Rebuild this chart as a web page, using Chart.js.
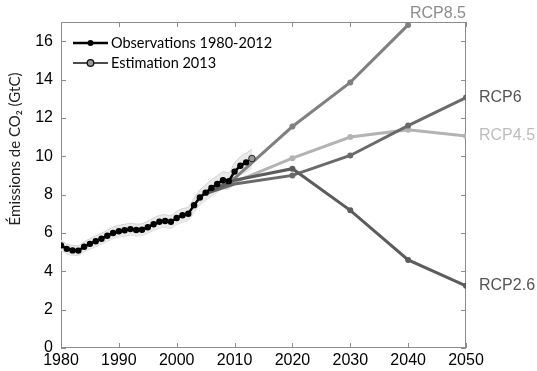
<!DOCTYPE html>
<html>
<head>
<meta charset="utf-8">
<script src="https://cdn.jsdelivr.net/npm/chart.js@4.4.1/dist/chart.umd.min.js"></script>
<style>
    html, body { margin: 0; padding: 0; background: #fff; }
    canvas { display: block; }
</style>
</head>
<body>
<canvas id="co2Chart" width="537" height="371"></canvas>
<script>
// Observations (GtC)
const obsYears = [1980, 1981, 1982, 1983, 1984, 1985, 1986, 1987, 1988, 1989,
    1990, 1991, 1992, 1993, 1994, 1995, 1996, 1997, 1998, 1999,
    2000, 2001, 2002, 2003, 2004, 2005, 2006, 2007, 2008, 2009,
    2010, 2011, 2012];
const obsValues = [5.35, 5.17, 5.09, 5.08, 5.28, 5.43, 5.57, 5.70, 5.85, 6.00,
    6.09, 6.14, 6.20, 6.15, 6.17, 6.30, 6.45, 6.58, 6.62, 6.58,
    6.78, 6.92, 7.00, 7.45, 7.85, 8.10, 8.35, 8.55, 8.75, 8.70,
    9.20, 9.50, 9.68];
const bandUpper = [5.62, 5.43, 5.35, 5.34, 5.54, 5.70, 5.85, 5.99, 6.14, 6.30,
    6.39, 6.45, 6.51, 6.46, 6.48, 6.62, 6.77, 6.91, 6.95, 6.91,
    7.12, 7.27, 7.35, 7.82, 8.24, 8.51, 8.77, 8.98, 9.19, 9.14,
    9.66, 9.98, 10.16, 10.37];
const bandLower = [5.08, 4.91, 4.84, 4.83, 5.02, 5.16, 5.29, 5.42, 5.56, 5.70,
    5.79, 5.83, 5.89, 5.84, 5.86, 5.99, 6.13, 6.25, 6.29, 6.25,
    6.44, 6.57, 6.65, 7.08, 7.46, 7.70, 7.93, 8.12, 8.31, 8.27,
    8.74, 9.03, 9.20, 9.39];
const bandYears = obsYears.concat([2013]);
const estYears = [2012, 2013];
const estValues = [9.68, 9.88];

// RCP scenarios
const rcpYears = [2005, 2010, 2020, 2030, 2040, 2050];
const rcp85 = [8.05, 8.85, 11.55, 13.85, 16.85, null];
const rcp6 = [8.05, 8.55, 9.00, 10.04, 11.60, 13.06];
const rcp45 = [8.05, 8.65, 9.90, 11.00, 11.38, 11.06];
const rcp26 = [8.05, 8.75, 9.35, 7.18, 4.59, 3.24];

const xTicks = [1980, 1990, 2000, 2010, 2020, 2030, 2040, 2050];
const yTicks = [0, 2, 4, 6, 8, 10, 12, 14, 16];

const toPoints = (xs, ys) => xs.map((x, i) => ({ x: x, y: ys[i] }));
const rcpRadius = [0, 0, 3, 3, 3, 3];

function rcpSet(label, values, color) {
    return {
        label: label,
        data: toPoints(rcpYears, values),
        borderColor: color,
        backgroundColor: color,
        borderWidth: 3,
        pointRadius: rcpRadius,
        pointBorderWidth: 0,
        pointBackgroundColor: color,
        tension: 0,
        spanGaps: false,
        fill: false
    };
}

// frame with inward ticks, axis title, legend and scenario labels
const decorations = {
    id: 'decorations',
    beforeDatasetsDraw(chart) {
        const ctx = chart.ctx;
        const a = chart.chartArea;
        const xs = chart.scales.x, ys = chart.scales.y;
        ctx.save();
        ctx.strokeStyle = '#8c8c8c';
        ctx.lineWidth = 1;
        ctx.strokeRect(a.left + 0.5, a.top + 0.5, a.right - a.left - 1, a.bottom - a.top - 1);
        ctx.beginPath();
        xTicks.forEach(v => {
            const px = Math.round(xs.getPixelForValue(v)) + 0.5;
            ctx.moveTo(px, a.bottom); ctx.lineTo(px, a.bottom - 5);
            ctx.moveTo(px, a.top); ctx.lineTo(px, a.top + 5);
        });
        yTicks.forEach(v => {
            const py = Math.round(ys.getPixelForValue(v)) + 0.5;
            ctx.moveTo(a.left, py); ctx.lineTo(a.left + 5, py);
            ctx.moveTo(a.right, py); ctx.lineTo(a.right - 5, py);
        });
        ctx.stroke();

        // y axis title (sits above the middle in the original)
        ctx.translate(15, 149);
        ctx.rotate(-Math.PI / 2);
        ctx.font = '15px Lato';
        ctx.fillStyle = '#222';
        ctx.textAlign = 'center';
        ctx.textBaseline = 'middle';
        ctx.fillText('Émissions de CO₂ (GtC)', 0, 0);
        ctx.restore();
    },
    afterDraw(chart) {
        const ctx = chart.ctx;
        const xs = chart.scales.x, ys = chart.scales.y;
        ctx.save();
        // legend
        ctx.font = '14.5px Lato';
        ctx.textBaseline = 'middle';
        ctx.textAlign = 'left';
        ctx.strokeStyle = '#000';
        ctx.lineWidth = 2.5;
        ctx.beginPath(); ctx.moveTo(73, 43); ctx.lineTo(108, 43); ctx.stroke();
        ctx.fillStyle = '#000';
        ctx.beginPath(); ctx.arc(90.5, 43, 3, 0, Math.PI * 2); ctx.fill();
        ctx.fillText('Observations 1980-2012', 111, 43);
        ctx.lineWidth = 1.3;
        ctx.strokeStyle = '#111';
        ctx.beginPath(); ctx.moveTo(73, 63); ctx.lineTo(108, 63); ctx.stroke();
        ctx.fillStyle = '#999';
        ctx.beginPath(); ctx.arc(90.5, 63, 3.3, 0, Math.PI * 2); ctx.fill(); ctx.stroke();
        ctx.fillStyle = '#000';
        ctx.fillText('Estimation 2013', 111, 63);

        // scenario labels
        ctx.font = '16px "Liberation Sans"';
        const x50 = xs.getPixelForValue(2050);
        const labels = [
            ['RCP6', rcp6[5], '#555555'],
            ['RCP4.5', rcp45[5], '#bdbdbd'],
            ['RCP2.6', rcp26[5], '#555555']
        ];
        labels.forEach(l => {
            ctx.fillStyle = l[2];
            ctx.fillText(l[0], x50 + 13, ys.getPixelForValue(l[1]));
        });
        ctx.textAlign = 'right';
        ctx.fillStyle = '#8c8c8c';
        ctx.fillText('RCP8.5', x50, chart.chartArea.top - 8);
        ctx.restore();
    }
};

// Chart.js draws the first dataset on top, so the band comes last
new Chart(document.getElementById('co2Chart'), {
    type: 'line',
    data: {
        datasets: [
            {
                label: 'Observations 1980-2012',
                data: toPoints(obsYears, obsValues),
                borderColor: '#000',
                borderWidth: 2.5,
                pointRadius: 3.2,
                pointBorderWidth: 0,
                pointBackgroundColor: '#000',
                tension: 0,
                fill: false
            },
            {
                label: 'Estimation 2013',
                data: toPoints(estYears, estValues),
                borderColor: '#222',
                borderWidth: 1.2,
                pointRadius: [0, 3.3],
                pointBackgroundColor: '#999',
                pointBorderColor: '#222',
                pointBorderWidth: 1,
                fill: false
            },
            rcpSet('RCP2.6', rcp26, '#5c5c5c'),
            rcpSet('RCP6', rcp6, '#6a6a6a'),
            rcpSet('RCP4.5', rcp45, '#b3b3b3'),
            rcpSet('RCP8.5', rcp85, '#808080'),
            {
                label: 'bandUpper',
                data: toPoints(bandYears, bandUpper),
                borderColor: '#d2d2d2',
                borderWidth: 1,
                backgroundColor: '#e9e9e9',
                pointRadius: 0,
                tension: 0.3,
                fill: '+1'
            },
            {
                label: 'bandLower',
                data: toPoints(bandYears, bandLower),
                borderColor: '#d2d2d2',
                borderWidth: 1,
                pointRadius: 0,
                tension: 0.3,
                fill: false
            }
        ]
    },
    options: {
        responsive: false,
        animation: false,
        devicePixelRatio: 1,
        layout: { padding: { top: 22, right: 71, bottom: 0, left: 0 } },
        plugins: {
            legend: { display: false },
            tooltip: { enabled: false }
        },
        scales: {
            x: {
                type: 'linear',
                min: 1980,
                max: 2050,
                afterBuildTicks: s => { s.ticks = xTicks.map(v => ({ value: v })); },
                afterFit: s => { s.height = 23; },
                grid: { display: false, drawTicks: false },
                border: { display: false },
                ticks: {
                    color: '#000',
                    font: { family: '"Liberation Sans", Arial', size: 16 },
                    padding: 3,
                    maxRotation: 0,
                    autoSkip: false,
                    callback: v => String(v)
                }
            },
            y: {
                min: 0,
                max: 17,
                afterBuildTicks: s => { s.ticks = yTicks.map(v => ({ value: v })); },
                afterFit: s => { s.width = 61; },
                grid: { display: false, drawTicks: false },
                border: { display: false },
                ticks: {
                    color: '#000',
                    font: { family: '"Liberation Sans", Arial', size: 16 },
                    padding: 8,
                    autoSkip: false
                }
            }
        }
    },
    plugins: [decorations]
});
</script>
</body>
</html>
